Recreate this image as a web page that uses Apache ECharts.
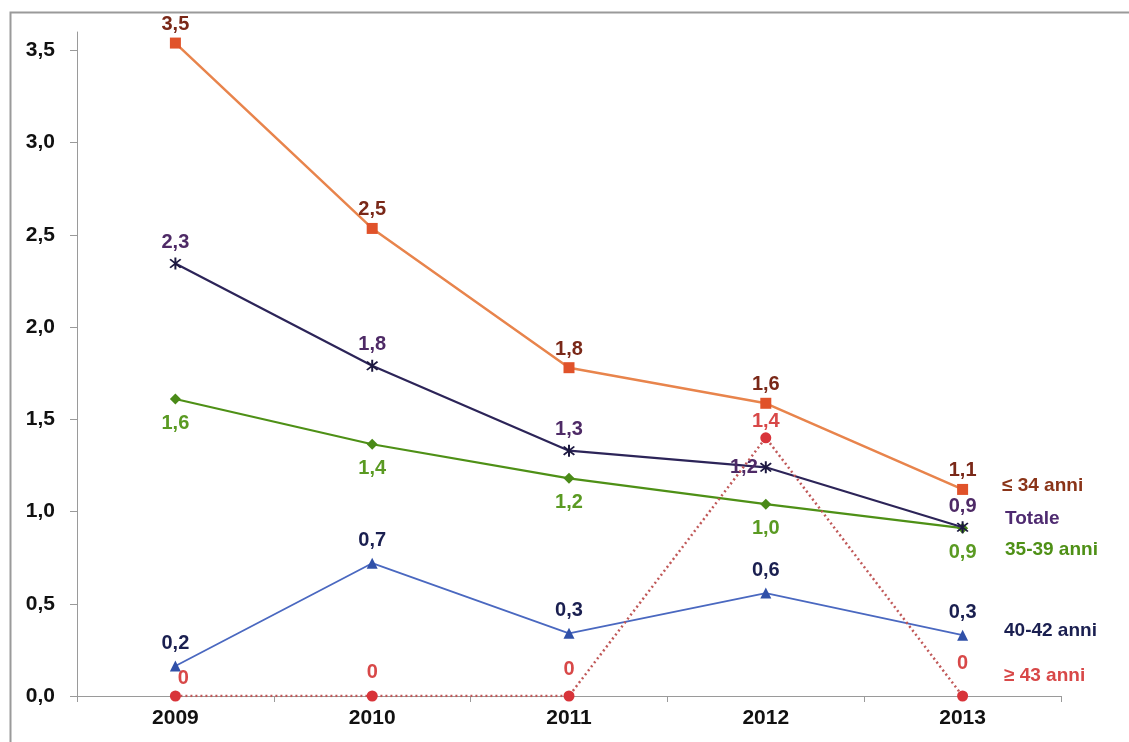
<!DOCTYPE html>
<html>
<head>
<meta charset="utf-8">
<script src="https://cdn.jsdelivr.net/npm/echarts@6/dist/echarts.min.js"></script>
<style>
html,body{margin:0;padding:0;background:#fff;}
#chart{width:1129px;height:742px;}
</style>
</head>
<body>
<div id="chart"></div>
<script>
var years = ['2009', '2010', '2011', '2012', '2013'];
var yTicks = [0, 0.5, 1.0, 1.5, 2.0, 2.5, 3.0, 3.5];
var s34 = [3.54, 2.535, 1.78, 1.587, 1.12];
var sTot = [2.345, 1.79, 1.33, 1.24, 0.915];
var s3539 = [1.61, 1.365, 1.18, 1.04, 0.91];
var s4042 = [0.163, 0.72, 0.34, 0.558, 0.33];
var s43 = [0, 0, 0, 1.40, 0];
var seriesNames = ['≤ 34 anni', 'Totale', '35-39 anni', '40-42 anni', '≥ 43 anni'];

var FONT = '"Liberation Sans", Arial, sans-serif';
function fmt(p) {
  var v = p.value;
  if (v === 0) return '0';
  return v.toFixed(1).replace('.', ',');
}
var asterisk = 'path://M-6.1,-7.9L7.9,6.1L6.1,7.9L-7.9,-6.1Z M6.1,-7.9L7.9,-6.1L-6.1,7.9L-7.9,6.1Z M-1.3,-10L1.3,-10L1.3,10L-1.3,10Z';

function mkSeries(name, data, opt) {
  return {
    name: name,
    type: 'line',
    data: data.map(function (v, i) {
      var d = { value: v };
      if (opt.labelOverrides && opt.labelOverrides[i]) d.label = opt.labelOverrides[i];
      return d;
    }),
    symbol: opt.symbol,
    symbolSize: opt.symbolSize,
    itemStyle: { color: opt.markerColor },
    lineStyle: { color: opt.lineColor, width: opt.lineWidth, type: opt.lineType || 'solid' },
    label: {
      show: true,
      position: opt.labelPos,
      distance: opt.labelDist,
      color: opt.labelColor,
      fontFamily: FONT,
      fontWeight: 'bold',
      fontSize: 20,
      formatter: fmt
    },
    z: opt.z || 2,
    animation: false
  };
}

var chart = echarts.init(document.getElementById('chart'));
chart.setOption({
  backgroundColor: '#ffffff',
  animation: false,
  grid: { left: 77, right: 68, top: 32, bottom: 46 },
  xAxis: {
    type: 'category',
    data: years,
    boundaryGap: true,
    axisLine: { lineStyle: { color: '#9a9a9a', width: 1 } },
    axisTick: { show: true, length: 6, lineStyle: { color: '#9a9a9a' } },
    axisLabel: { color: '#111', fontFamily: FONT, fontWeight: 'bold', fontSize: 21, margin: 12 }
  },
  yAxis: {
    type: 'value',
    min: 0,
    max: 3.6,
    interval: 0.5,
    splitLine: { show: false },
    axisLine: { show: true, lineStyle: { color: '#9a9a9a', width: 1 } },
    axisTick: { show: true, length: 7, customValues: yTicks, lineStyle: { color: '#9a9a9a' } },
    axisLabel: {
      color: '#111', fontFamily: FONT, fontWeight: 'bold', fontSize: 21, margin: 22,
      customValues: yTicks,
      formatter: function (v) { return v.toFixed(1).replace('.', ','); }
    }
  },
  series: [
    mkSeries(seriesNames[0], s34, {
      symbol: 'rect', symbolSize: 11, markerColor: '#e0522a', lineColor: '#e8844c', lineWidth: 2.5,
      labelPos: 'top', labelDist: 3, labelColor: '#7a2818', z: 5
    }),
    mkSeries(seriesNames[1], sTot, {
      symbol: asterisk, symbolSize: 12, markerColor: '#1c1840', lineColor: '#2c2458', lineWidth: 2.2,
      labelPos: 'top', labelDist: 5, labelColor: '#4e2a66', z: 4,
      labelOverrides: { 3: { position: 'left', distance: 2 } }
    }),
    mkSeries(seriesNames[2], s3539, {
      symbol: 'diamond', symbolSize: 11, markerColor: '#4a8a18', lineColor: '#4e9016', lineWidth: 2.2,
      labelPos: 'bottom', labelDist: 9, labelColor: '#5a9a22', z: 3
    }),
    mkSeries(seriesNames[3], s4042, {
      symbol: 'triangle', symbolSize: 11, markerColor: '#3050a8', lineColor: '#4a68c0', lineWidth: 1.8,
      labelPos: 'top', labelDist: 7, labelColor: '#1a1f50', z: 3
    }),
    mkSeries(seriesNames[4], s43, {
      symbol: 'circle', symbolSize: 11, markerColor: '#d8343a', lineColor: '#c05858', lineWidth: 2.5, lineType: [2, 3],
      labelPos: 'top', labelDist: 11, labelColor: '#d84848', z: 6,
      labelOverrides: { 0: { distance: 2, offset: [8, 0] }, 1: { distance: 8 }, 3: { distance: 1 }, 4: { distance: 17 } }
    })
  ],
  graphic: [
    { type: 'rect', left: 8, top: 10, shape: { width: 1140, height: 760 }, style: { fill: 'none', stroke: '#9a9a9a', lineWidth: 2 }, silent: true, z: -1 },
    { type: 'text', left: 1002, top: 476, style: { text: seriesNames[0], fill: '#8a3418', font: 'bold 19px ' + FONT } },
    { type: 'text', left: 1005, top: 509, style: { text: seriesNames[1], fill: '#4e2a70', font: 'bold 19px ' + FONT } },
    { type: 'text', left: 1005, top: 540, style: { text: seriesNames[2], fill: '#4e9016', font: 'bold 19px ' + FONT } },
    { type: 'text', left: 1004, top: 621, style: { text: seriesNames[3], fill: '#1a1f50', font: 'bold 19px ' + FONT } },
    { type: 'text', left: 1004, top: 666, style: { text: seriesNames[4], fill: '#d84848', font: 'bold 19px ' + FONT } }
  ]
});
</script>
</body>
</html>
